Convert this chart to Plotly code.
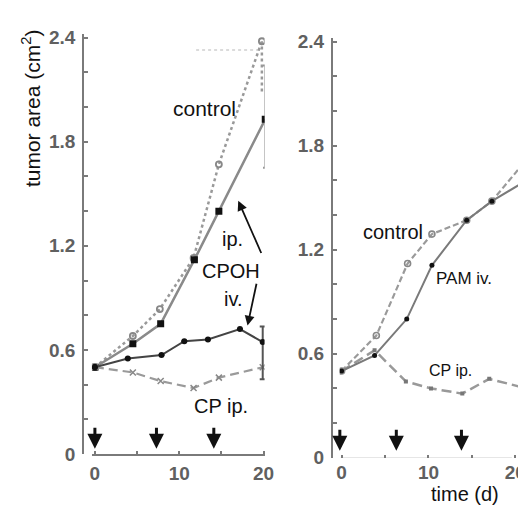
import plotly.graph_objects as go

W, H = 526, 509

# ---------------- data: left panel (CPOH) ----------------
ctrlL_x = [0, 4.5, 7.7, 11.7, 14.7, 19.8]
ctrlL_y = [0.50, 0.68, 0.835, 1.13, 1.67, 2.38]
ipL_x = [0, 4.5, 7.8, 11.8, 14.7, 20.2]
ipL_y = [0.50, 0.635, 0.75, 1.12, 1.40, 1.93]
ipL_err_up = [None, None, None, None, None, 0.31]
ipL_err_dn = [None, None, None, None, None, 0.28]
ivL_x = [0, 3.9, 7.9, 10.6, 13.4, 17.2, 19.9]
ivL_y = [0.50, 0.55, 0.57, 0.65, 0.66, 0.72, 0.645]
ivL_err_up = [None, None, None, None, None, None, 0.09]
ivL_err_dn = [None, None, None, None, None, None, 0.215]
cpL_x = [0, 4.5, 7.8, 11.7, 14.7, 19.9]
cpL_y = [0.50, 0.47, 0.42, 0.38, 0.44, 0.50]
ctrlL_err_x = [19.8, 19.8]
ctrlL_err_y = [2.09, 2.38]
capL_x = [12.0, 19.5]
capL_y = [2.33, 2.33]
dosesL = [0, 7.3, 14.1]

# ---------------- data: right panel (PAM) ----------------
ctrlR_x = [0, 4.0, 7.6, 10.4, 14.4, 17.3, 21.3]
ctrlR_y = [0.50, 0.705, 1.12, 1.29, 1.37, 1.48, 1.72]
pamR_x = [0, 3.8, 7.5, 10.4, 14.4, 17.3, 21.3]
pamR_y = [0.50, 0.59, 0.80, 1.11, 1.37, 1.48, 1.60]
cpR_x = [0, 3.8, 7.4, 10.3, 13.9, 17.0, 21.3]
cpR_y = [0.50, 0.62, 0.44, 0.40, 0.37, 0.455, 0.40]
errR_x = [20.9, 20.9]
errR_y = [1.33, 1.80]
dosesR = [-0.2, 6.3, 13.8]

y_ticks = [0, 0.6, 1.2, 1.8, 2.4]
y_ticktext = ["0", "0.6", "1.2", "1.8", "2.4"]
x_ticks = [0, 10, 20]
x_ticktext = ["0", "10", "20"]

FONT = "Liberation Sans"
AX = "#7a7a7a"
TICKFONT = dict(family=FONT, size=19, color="#606060", weight="bold")

fig = go.Figure()

# left panel traces
fig.add_trace(go.Scatter(x=capL_x, y=capL_y, mode="lines", xaxis="x", yaxis="y",
                         line=dict(color="#d0d0d0", width=1.5, dash="dot")))
fig.add_trace(go.Scatter(x=ctrlL_err_x, y=ctrlL_err_y, mode="lines", xaxis="x", yaxis="y",
                         line=dict(color="#999999", width=2.5, dash="dot")))
fig.add_trace(go.Scatter(x=ctrlL_x, y=ctrlL_y, mode="lines+markers", xaxis="x", yaxis="y",
                         line=dict(color="#999999", width=2.5, dash="dot"),
                         marker=dict(symbol="circle-open", size=6, color="#888888",
                                     line=dict(width=1.8, color="#888888"))))
fig.add_trace(go.Scatter(x=ipL_x, y=ipL_y, mode="lines+markers", xaxis="x", yaxis="y",
                         line=dict(color="#8a8a8a", width=2.5),
                         marker=dict(symbol="square", size=7, color="#111111"),
                         error_y=dict(type="data", array=ipL_err_up, arrayminus=ipL_err_dn,
                                      color="#777777", thickness=2, width=2)))
fig.add_trace(go.Scatter(x=cpL_x, y=cpL_y, mode="lines+markers", xaxis="x", yaxis="y",
                         line=dict(color="#9a9a9a", width=2.2, dash="9px,5px"),
                         marker=dict(symbol="x-thin", size=6, color="#888888",
                                     line=dict(width=1.5, color="#888888"))))
fig.add_trace(go.Scatter(x=ivL_x, y=ivL_y, mode="lines+markers", xaxis="x", yaxis="y",
                         line=dict(color="#444444", width=2),
                         marker=dict(symbol="circle", size=6, color="#111111"),
                         error_y=dict(type="data", array=ivL_err_up, arrayminus=ivL_err_dn,
                                      color="#555555", thickness=2, width=3)))

# right panel traces
fig.add_trace(go.Scatter(x=errR_x, y=errR_y, mode="lines", xaxis="x2", yaxis="y2",
                         line=dict(color="#aaaaaa", width=1.5)))
fig.add_trace(go.Scatter(x=cpR_x, y=cpR_y, mode="lines+markers", xaxis="x2", yaxis="y2",
                         line=dict(color="#999999", width=2.5, dash="10px,5px"),
                         marker=dict(symbol="square", size=4, color="#777777")))
fig.add_trace(go.Scatter(x=ctrlR_x, y=ctrlR_y, mode="lines+markers", xaxis="x2", yaxis="y2",
                         line=dict(color="#9a9a9a", width=2.2, dash="6px,3px"),
                         marker=dict(symbol="circle-open", size=6, color="#888888",
                                     line=dict(width=1.6, color="#888888"))))
fig.add_trace(go.Scatter(x=pamR_x, y=pamR_y, mode="lines+markers", xaxis="x2", yaxis="y2",
                         line=dict(color="#7a7a7a", width=2),
                         marker=dict(symbol="circle", size=5, color="#111111")))

def xa(domain, rng):
    return dict(domain=domain, range=rng, tickvals=x_ticks, ticktext=x_ticktext,
                showline=True, linecolor=AX, linewidth=2, ticks="inside", ticklen=3,
                tickcolor=AX, tickwidth=1.5, tickfont=TICKFONT, showgrid=False,
                zeroline=False, ticklabelstandoff=1,
                minor=dict(dtick=5, tick0=0, ticks="inside", ticklen=3, tickcolor=AX))

def ya(domain, pos):
    return dict(domain=domain, range=[0, 2.42], anchor="free", position=pos,
                tickvals=y_ticks, ticktext=y_ticktext, showline=True, linecolor=AX,
                linewidth=2, ticks="inside", ticklen=4, tickcolor=AX, tickwidth=1.5,
                tickfont=TICKFONT, showgrid=False, zeroline=False, ticklabelstandoff=3,
                minor=dict(dtick=0.2, tick0=0, ticks="inside", ticklen=4, tickcolor=AX))

px = lambda p: p / W
py = lambda p: (H - p) / H

x1 = xa([px(83), px(260)], [-0.35, 20.12])
x1["anchor"] = "y"
x2 = xa([px(337), 1.0], [-0.22, 21.0])
x2["anchor"] = "y2"
x2["showline"] = False
y1 = ya([py(455), py(20)], px(74))
y2 = ya([py(459), py(24)], px(329))

annotations = []
def txt(t, cx, cy, size=20, **kw):
    annotations.append(dict(text=t, x=px(cx), y=py(cy), xref="paper", yref="paper",
                            xanchor="center", yanchor="middle", showarrow=False,
                            font=dict(family=FONT, size=size, color="#111111"), **kw))

txt("tumor area (cm<sup>2</sup>)", 20, 97, size=21, textangle=-90)
txt("control", 198, 97, size=21)
txt("ip.", 227, 232)
txt("CPOH", 226, 265)
txt("iv.", 228, 294)
txt("CP ip.", 215, 405)
txt("control", 392, 225, size=20)
txt("PAM iv.", 464, 273, size=17)
txt("CP ip.", 451, 369, size=16)
txt("time (d)", 466, 497, size=20)

# curved-label arrows in left panel
for (hx, hy, tx, ty) in [(17.0, 1.46, 19.8, 1.15), (18.1, 0.74, 19.2, 0.99)]:
    annotations.append(dict(x=hx, y=hy, ax=tx, ay=ty, xref="x", yref="y", axref="x", ayref="y",
                            showarrow=True, arrowhead=2, arrowsize=1.1, arrowwidth=1.8,
                            arrowcolor="#111111", text=""))
# dosing arrows
for d in dosesL:
    annotations.append(dict(x=d, y=0.03, ax=d, ay=0.16, xref="x", yref="y", axref="x", ayref="y",
                            showarrow=True, arrowhead=2, arrowsize=1.0, arrowwidth=3,
                            arrowcolor="#111111", text=""))
for d in dosesR:
    annotations.append(dict(x=d, y=0.04, ax=d, ay=0.17, xref="x2", yref="y2", axref="x2", ayref="y2",
                            showarrow=True, arrowhead=2, arrowsize=1.0, arrowwidth=3,
                            arrowcolor="#111111", text=""))

shapes = [dict(type="line", xref="x2", yref="y2", x0=-0.1, x1=19.6, y0=-0.005, y1=-0.005,
               line=dict(color=AX, width=2))]

fig.update_layout(width=W, height=H, margin=dict(l=0, r=0, t=0, b=0),
                  paper_bgcolor="white", plot_bgcolor="white", showlegend=False,
                  xaxis=x1, yaxis=y1, xaxis2=x2, yaxis2=y2,
                  annotations=annotations, shapes=shapes)

fig.write_html("out.html")
